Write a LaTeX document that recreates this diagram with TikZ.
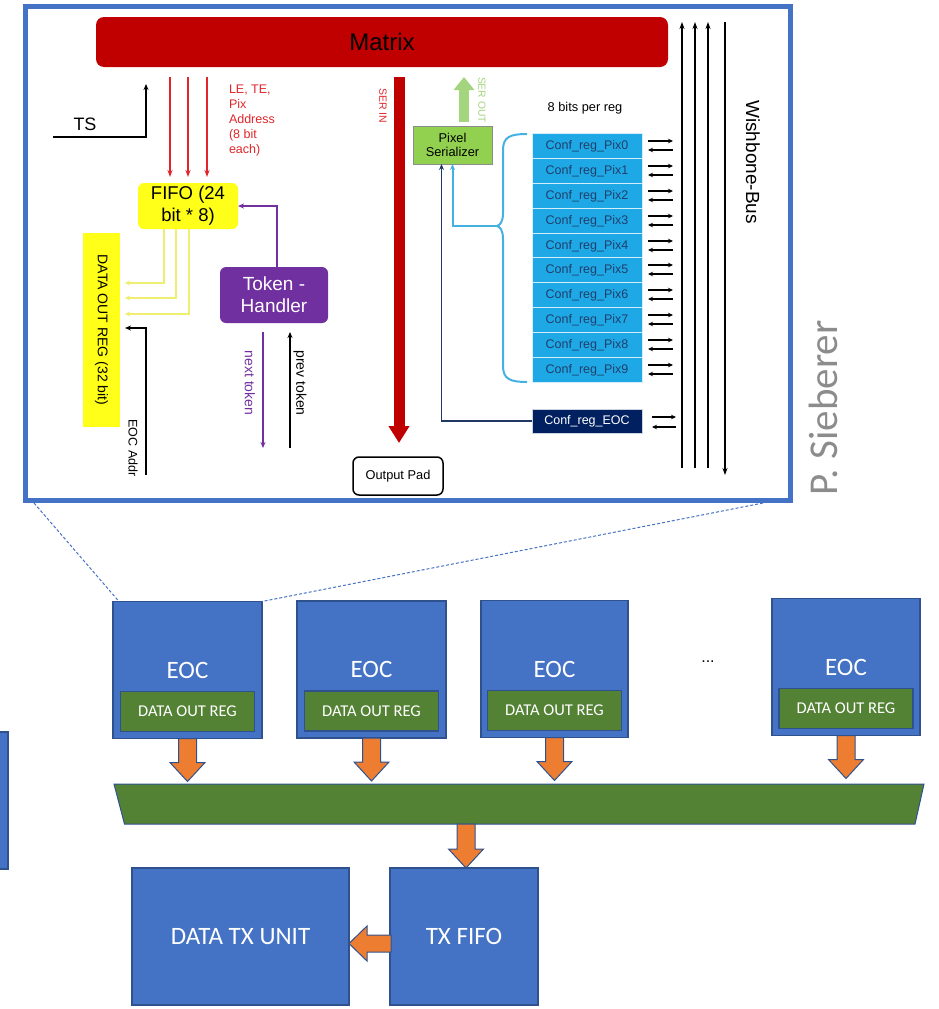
\documentclass[tikz,border=0pt]{standalone}
\usepackage{fontspec}
\setmainfont{Liberation Sans}
\newfontfamily\calibri{Carlito}
\usetikzlibrary{arrows.meta,calc}

\definecolor{frameblue}{HTML}{4472C4}
\definecolor{edgeblue}{HTML}{2F528F}
\definecolor{regreen}{HTML}{548235}
\definecolor{orangeA}{HTML}{ED7D31}
\definecolor{matrixred}{HTML}{C00000}
\definecolor{sigred}{HTML}{E0262B}
\definecolor{fifoyellow}{HTML}{FFFF1A}
\definecolor{tokpurple}{HTML}{7030A0}
\definecolor{lineyellow}{HTML}{EEEE70}
\definecolor{serialgreen}{HTML}{92D050}
\definecolor{seroutgreen}{HTML}{A3D47E}
\definecolor{confblue}{HTML}{1EA9E6}
\definecolor{conftext}{HTML}{1F3F6B}
\definecolor{navyreg}{HTML}{002060}
\definecolor{navyline}{HTML}{1F3864}
\definecolor{bracecol}{HTML}{45B1E3}
\definecolor{authorgray}{HTML}{8C8C8C}

\newcommand\fsz[2]{\fontsize{#1}{#2}\selectfont}

\tikzset{
  every node/.style={inner sep=0pt, outer sep=0pt},
  matrixbox/.style={fill=matrixred, rounded corners=8pt, minimum width=572pt, minimum height=50pt, font=\fsz{24}{28}},
  fifobox/.style={fill=fifoyellow, rounded corners=6pt, minimum width=100pt, minimum height=46pt, align=center, font=\fsz{18.5}{22}},
  tokbox/.style={fill=tokpurple, rounded corners=6pt, minimum width=108pt, minimum height=56pt, align=center, text=white, font=\fsz{19}{22}},
  dorbox/.style={fill=fifoyellow, rotate=-90, minimum width=194pt, minimum height=37pt, font=\fsz{14}{16}},
  serbox/.style={fill=serialgreen, draw=black!45, line width=0.6pt, minimum width=79pt, minimum height=38pt, align=center, font=\fsz{12.8}{14.5}},
  padbox/.style={draw=black, line width=1.5pt, rounded corners=6pt, minimum width=90pt, minimum height=38pt, font=\fsz{12.8}{15}},
  confbox/.style={fill=confblue, draw=white!80!confblue, line width=0.8pt, minimum width=110pt, minimum height=24.8pt, text=conftext, font=\fsz{12.5}{14}},
  confeoc/.style={fill=navyreg, draw=white!80!navyreg, line width=0.8pt, minimum width=110pt, minimum height=24pt, text=white, font=\fsz{12.5}{14}},
  sig/.style={black, line width=1.6pt, -{Stealth[length=6pt,width=5pt]}},
  redsig/.style={sigred, line width=1.8pt, -{Stealth[length=7pt,width=5pt]}},
  yelsig/.style={lineyellow, line width=2.5pt, -{Stealth[length=5pt,width=5pt]}},
  purplesig/.style={tokpurple, line width=1.6pt, -{Stealth[length=6pt,width=5pt]}},
  busline/.style={black, line width=1.8pt},
  busarrow/.style={black, line width=1.7pt, -{Stealth[length=5pt,width=4.5pt]}},
  bracestyle/.style={bracecol, line width=2pt},
  rotlabel/.style={rotate=-90},
  eocbox/.style={fill=frameblue, draw=edgeblue, line width=1.2pt, minimum width=149pt, minimum height=137pt, text=white, font=\calibri\fsz{25}{28}},
  regbox/.style={fill=regreen, draw=edgeblue, line width=1.2pt, minimum width=134pt, minimum height=40pt, text=white, font=\calibri\fsz{16.5}{18}},
  bigbox/.style={fill=frameblue, draw=edgeblue, line width=1.2pt, minimum height=137pt, text=white, font=\calibri\fsz{25}{28}},
  orangearrow/.style={fill=orangeA, draw=edgeblue, line width=1pt, line join=miter},
  dashline/.style={frameblue, line width=1pt, dash pattern=on 3pt off 2pt},
  pics/fatdown/.style={code={
    \draw[orangearrow] (-9,0) -- (-9,#1-19) -- (-17.5,#1-19) -- (0,#1) -- (17.5,#1-19) -- (9,#1-19) -- (9,0) -- cycle;
  }},
}

\begin{document}
\begin{tikzpicture}[x=1pt,y=-1pt]
\useasboundingbox (0,0) rectangle (938,1009);

% ---------- frame of the end-of-column detail ----------
\node[draw=frameblue, line width=5pt, minimum width=765pt, minimum height=494pt] (frame) at (407.5,253) {};

\node[matrixbox] (matrix) at (382,42) {Matrix};

% timestamp input
\node[font=\fsz{18}{20}] (ts) at (85,124) {TS};
\coordinate (tsin) at (53,137);
\coordinate (tsup) at (146,84);
\draw[sig] (tsin) -| (tsup);

% FIFO and its inputs
\node[fifobox] (fifo) at (188,206) {FIFO (24\\bit * 8)};
\foreach \dx in {-18,0,19}
  \draw[redsig] ($(matrix.south -| fifo.north)+(\dx,10)$) -- ($(fifo.north)+(\dx,-6)$);
\node[anchor=north west, align=left, text=sigred, font=\fsz{12.5}{15}] (lete) at (229,85) {LE, TE,\\Pix\\Address\\(8 bit\\each)};

% token handler
\node[tokbox] (tok) at (274,295) {Token -\\Handler};
\draw[purplesig] ($(tok.north)+(3,0)$) |- (fifo.east);
\draw[purplesig] ($(tok.south)+(-11,9)$) -- ($(tok.south)+(-11,125)$);
\draw[sig] ($(tok.south)+(16,125)$) -- ($(tok.south)+(16,9)$);
\node[rotlabel, text=tokpurple, font=\fsz{14}{16}] (nexttok) at (250,383) {next token};
\node[rotlabel, font=\fsz{14}{16}] (prevtok) at (300,383) {prev token};

% 32 bit output register
\node[dorbox] (dor) at (101.5,330) {DATA OUT REG (32 bit)};
\draw[yelsig] ($(fifo.south)+(-24,0)$) |- ([xshift=5pt]dor.north |- 0,283);
\draw[yelsig] ($(fifo.south)+(-12,0)$) |- ([xshift=5pt]dor.north |- 0,298);
\draw[yelsig] ($(fifo.south)+(1,0)$) |- ([xshift=5pt]dor.north |- 0,314);
\coordinate (eocaddr) at (146,475);
\draw[sig] (eocaddr) |- ([xshift=5pt]dor.north |- 0,328);
\node[rotlabel, font=\fsz{12.5}{14}] (eoclbl) at (133,448) {EOC Addr};

% serial path
\node[padbox] (opad) at (398,476) {Output Pad};
\draw[matrixred, line width=11pt, -{Triangle[width=20pt,length=17pt]}]
  ($(matrix.south -| opad.north)+(1,10)$) -- ($(opad.north)+(1,-14)$);
\node[rotlabel, text=sigred, font=\fsz{10.5}{12}] (serin) at (383,106) {SER IN};

\node[serbox] (ser) at (452.5,145) {Pixel\\Serializer};
\draw[seroutgreen, line width=10pt, -{Triangle[width=20pt,length=13pt]}]
  ($(ser.north)+(11.5,-4)$) -- ($(ser.north)+(11.5,-49)$);
\node[rotlabel, text=seroutgreen, font=\fsz{10.3}{12}] (serout) at (482,100) {SER OUT};

% configuration registers
\node[font=\fsz{12.8}{14}] (bits) at (585,108) {8 bits per reg};
\foreach \i in {0,...,9}
  \node[confbox] (pix\i) at (587,{round(146.4+24.8*\i)}) {Conf\_reg\_Pix\i};
\node[confeoc] (ceoc) at (587,421) {Conf\_reg\_EOC};

\coordinate (bracetip) at (497,226);
\draw[bracestyle] (527,134) .. controls (510,134) and (503,137) .. (503,150) -- (503,213)
  .. controls (503,222) and (500,225) .. (bracetip)
  .. controls (500,227) and (503,230) .. (503,239) -- (503,366)
  .. controls (503,379) and (510,382) .. (527,382);
\draw[bracestyle, -{Stealth[length=6pt,width=5pt]}] (bracetip) -| (ser.south);
\draw[navyline, line width=1.6pt, -{Stealth[length=6pt,width=5pt]}] (ceoc.west) -| ($(ser.south)+(-11,0)$);

% wishbone bus
\foreach \x in {682,695,708} {
  \coordinate (bt\x) at (\x,22);
  \coordinate (bb\x) at (\x,468);
  \draw[busline, -{Stealth[length=7pt,width=5pt]}] (bb\x) -- (bt\x);
}
\coordinate (bt4) at (725,22);
\coordinate (bb4) at (725,475);
\draw[busline, -{Stealth[length=7pt,width=5pt]}] (bt4) -- (bb4);
\node[rotlabel, font=\fsz{19}{21}] (wb) at (753,162) {Wishbone-Bus};

\foreach \i in {0,...,9} {
  \draw[busarrow] ($(pix\i.east)+(6,-5)$) -- ($(pix\i.east)+(31,-5)$);
  \draw[busarrow] ($(pix\i.east)+(31,4)$) -- ($(pix\i.east)+(6,4)$);
}
\draw[busarrow] ($(ceoc.east)+(10,-4)$) -- ($(ceoc.east)+(34,-4)$);
\draw[busarrow] ($(ceoc.east)+(34,6)$) -- ($(ceoc.east)+(10,6)$);

\node[rotate=90, anchor=base west, text=authorgray, font=\calibri\fsz{41}{44}] (author) at (837,495) {P. Sieberer};

% ---------- column readout ----------
\node[eocbox] (e1) at (187.5,670) {EOC};
\node[eocbox] (e2) at (371.5,669.5) {EOC};
\node[eocbox, minimum width=147pt] (e3) at (554.5,669) {EOC};
\node[eocbox, minimum width=148pt] (e4) at (846,667) {EOC};
\foreach \e in {e1,e2,e3,e4}
  \node[regbox] (\e reg) at ($(\e.south)+(0,-27)$) {DATA OUT REG};
\node[font=\fsz{16}{18}] (dots) at (708,662) {...};

\draw[dashline] ($(frame.south west)+(9,3)$) -- ($(e1.north west)+(6,0)$);
\draw[dashline] ($(frame.south east)+(-27,3)$) -- (e1.north east);

\foreach \e in {e1,e2,e3,e4}
  \pic at (\e.south) {fatdown=43};

% collecting bus
\draw[fill=regreen, draw=edgeblue, line width=1pt] (114,784) -- (924,784) -- (915,824) -- (124.5,824) -- cycle;
\coordinate (barout) at (466,824);
\pic at (barout) {fatdown=44};

\node[bigbox, minimum width=148pt] (txfifo) at (464,936.5) {TX FIFO};
\node[bigbox, minimum width=217pt] (txunit) at (240.5,936.5) {DATA TX UNIT};
\draw[orangearrow] ($(txfifo.west)+(1,-1.5)$) -- ($(txfifo.west)+(-23,-1.5)$) -- ($(txfifo.west)+(-23,-10.5)$)
  -- ($(txunit.east)+(0,7)$) -- ($(txfifo.west)+(-23,24.5)$) -- ($(txfifo.west)+(-23,15.5)$)
  -- ($(txfifo.west)+(1,15.5)$) -- cycle;

% neighbouring block at the left edge
\draw[fill=frameblue, draw=edgeblue, line width=1.2pt] (-20,732) rectangle (8,869);
\end{tikzpicture}
\end{document}
